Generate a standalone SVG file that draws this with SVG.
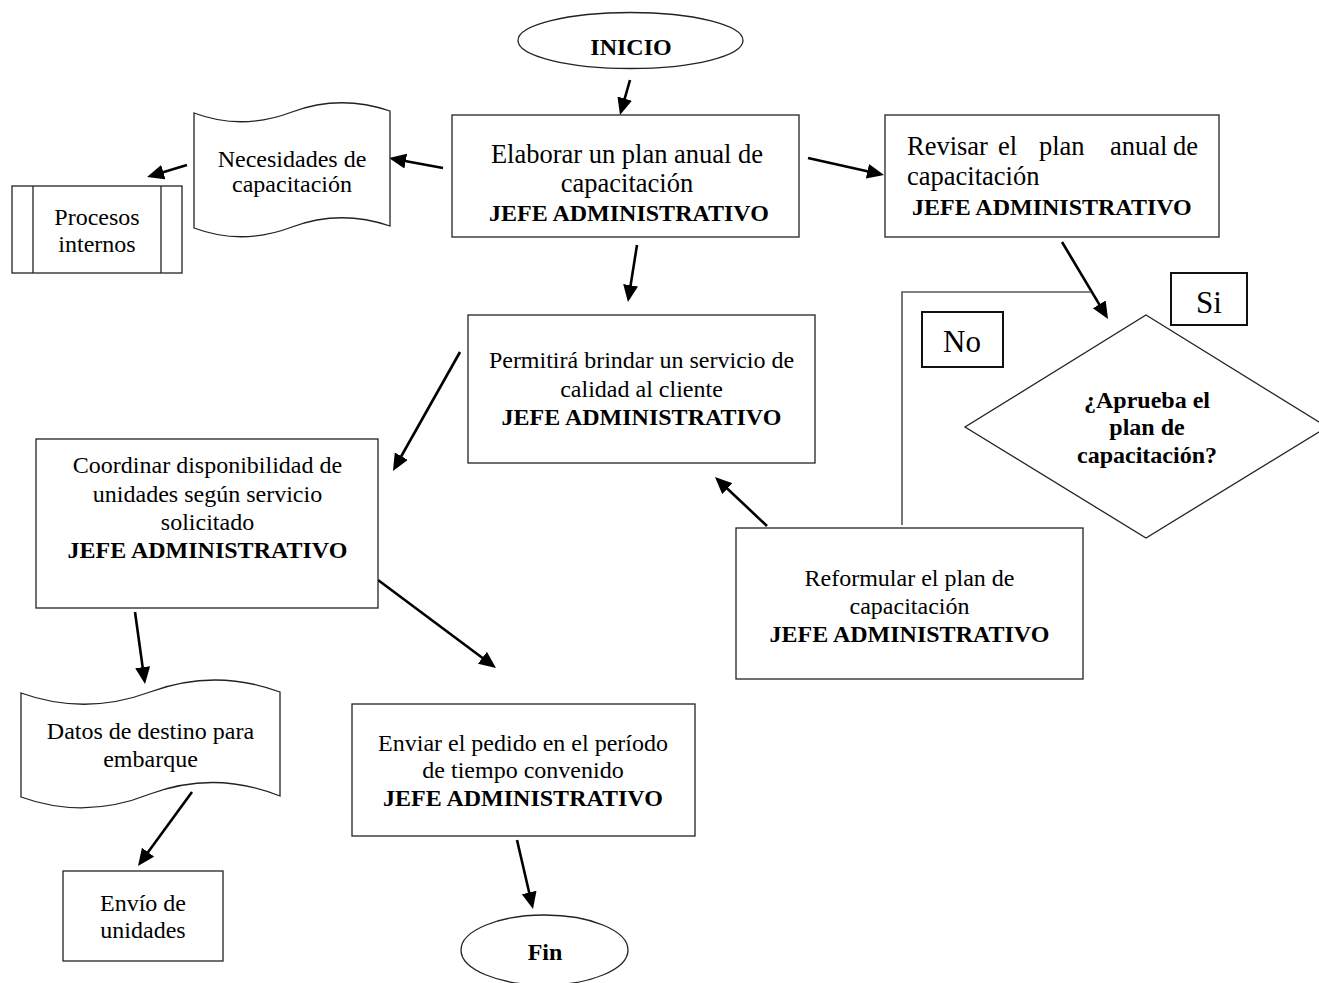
<svg xmlns="http://www.w3.org/2000/svg" width="1319" height="983" viewBox="0 0 1319 983">
  <style>
    .shape { fill: #ffffff; stroke: #222222; stroke-width: 1.3; }
    .thin { fill: none; stroke: #222222; stroke-width: 1.3; }
    .label-box { fill: #ffffff; stroke: #111111; stroke-width: 2; }
    .t { font-family: "Liberation Serif", "Times New Roman", serif; font-size: 24px; fill: #000000; text-anchor: middle; }
    .big { font-size: 26.5px; }
    .b { font-weight: bold; font-size: 24px; }
    .sino { font-size: 31px; }
    .left { text-anchor: start; }
    .flow { fill: none; stroke: #000000; stroke-width: 2.6; marker-end: url(#head); }
    .loop { fill: none; stroke: #555555; stroke-width: 1.6; }
  </style>
  <defs>
    <marker id="head" markerUnits="userSpaceOnUse" markerWidth="18" markerHeight="16" refX="9" refY="7.5" orient="auto">
      <path d="M0,0 L17,7.5 L0,15 Z" fill="#000000"/>
    </marker>
  </defs>

  <rect width="1319" height="983" fill="#ffffff"/>

  <!-- connectors -->
  <g id="connectors">
    <line class="flow" x1="630" y1="80" x2="622.2" y2="107.3"/>
    <line class="flow" x1="443" y1="168" x2="396.9" y2="159.5"/>
    <line class="flow" x1="187" y1="165" x2="154.7" y2="174.7"/>
    <line class="flow" x1="808" y1="158" x2="876.2" y2="173.3"/>
    <line class="flow" x1="637" y1="245" x2="629.2" y2="294.1"/>
    <line class="flow" x1="1062" y1="242" x2="1103.9" y2="312.1"/>
    <line class="flow" x1="767" y1="526" x2="720.8" y2="482.5"/>
    <line class="flow" x1="460" y1="352" x2="396.9" y2="464"/>
    <line class="flow" x1="378" y1="580" x2="489.6" y2="663.2"/>
    <line class="flow" x1="135" y1="612" x2="143.9" y2="676.1"/>
    <line class="flow" x1="192" y1="792" x2="142.7" y2="859.5"/>
    <line class="flow" x1="517" y1="840" x2="531.2" y2="901.2"/>
    <!-- "No" return path from the decision back up over the reformulation box -->
    <polyline class="loop" points="902,525 902,292 1091,292"/>
  </g>

  <!-- start terminal -->
  <g id="inicio">
    <ellipse class="shape" cx="630.5" cy="40.5" rx="112.5" ry="28"/>
    <text class="t b" x="631" y="55">INICIO</text>
  </g>

  <g id="elaborar">
    <rect class="shape" x="452" y="115" width="347" height="122"/>
    <text class="t big" x="627" y="163">Elaborar un plan anual de</text>
    <text class="t big" x="627" y="192">capacitación</text>
    <text class="t b" x="629" y="221">JEFE ADMINISTRATIVO</text>
  </g>

  <g id="revisar">
    <rect class="shape" x="885" y="115" width="334" height="122"/>
    <text class="t big left" y="155"><tspan x="907">Revisar</tspan><tspan x="998">el</tspan><tspan x="1039">plan</tspan><tspan x="1110">anual</tspan><tspan x="1173">de</tspan></text>
    <text class="t big left" x="907" y="185">capacitación</text>
    <text class="t b left" x="912" y="215">JEFE ADMINISTRATIVO</text>
  </g>

  <g id="necesidades">
    <path class="shape" d="M194,113 Q242,131 292,112 Q340,94 390,111 L390,226 Q340,209 292,227 Q242,246 194,228 Z"/>
    <text class="t" x="292" y="167">Necesidades de</text>
    <text class="t" x="292" y="192">capacitación</text>
  </g>

  <g id="procesos">
    <rect class="shape" x="12" y="186" width="170" height="87"/>
    <line class="thin" x1="33" y1="186" x2="33" y2="273"/>
    <line class="thin" x1="161" y1="186" x2="161" y2="273"/>
    <text class="t" x="97" y="225">Procesos</text>
    <text class="t" x="97" y="252">internos</text>
  </g>

  <g id="permitira">
    <rect class="shape" x="468" y="315" width="347" height="148"/>
    <text class="t" x="641.5" y="368">Permitirá brindar un servicio de</text>
    <text class="t" x="641.5" y="397">calidad al cliente</text>
    <text class="t b" x="641.5" y="425">JEFE ADMINISTRATIVO</text>
  </g>

  <g id="decision">
    <polygon class="shape" points="1146,315 1327,427 1146,538 965,427"/>
    <text class="t b" x="1147" y="408">¿Aprueba el</text>
    <text class="t b" x="1147" y="435">plan de</text>
    <text class="t b" x="1147" y="463">capacitación?</text>
  </g>

  <g id="label-si">
    <rect class="label-box" x="1171" y="273" width="76" height="52"/>
    <text class="t sino" x="1209" y="313">Si</text>
  </g>

  <g id="label-no">
    <rect class="label-box" x="922" y="312" width="81" height="55"/>
    <text class="t sino" x="962" y="352">No</text>
  </g>

  <g id="reformular">
    <rect class="shape" x="736" y="528" width="347" height="151"/>
    <text class="t" x="909.5" y="586">Reformular el plan de</text>
    <text class="t" x="909.5" y="614">capacitación</text>
    <text class="t b" x="909.5" y="642">JEFE ADMINISTRATIVO</text>
  </g>

  <g id="coordinar">
    <rect class="shape" x="36" y="439" width="342" height="169"/>
    <text class="t" x="207.5" y="473">Coordinar disponibilidad de</text>
    <text class="t" x="207.5" y="502">unidades según servicio</text>
    <text class="t" x="207.5" y="530">solicitado</text>
    <text class="t b" x="207.5" y="558">JEFE ADMINISTRATIVO</text>
  </g>

  <g id="datos">
    <path class="shape" d="M21,693 Q85,716 150,692 Q215,668 280,692 L280,796 Q215,770 150,794 Q85,820 21,797 Z"/>
    <text class="t" x="150.5" y="739">Datos de destino para</text>
    <text class="t" x="150.5" y="767">embarque</text>
  </g>

  <g id="envio">
    <rect class="shape" x="63" y="871" width="160" height="90"/>
    <text class="t" x="143" y="911">Envío de</text>
    <text class="t" x="143" y="938">unidades</text>
  </g>

  <g id="enviar">
    <rect class="shape" x="352" y="704" width="343" height="132"/>
    <text class="t" x="523" y="751">Enviar el pedido en el período</text>
    <text class="t" x="523" y="778">de tiempo convenido</text>
    <text class="t b" x="523" y="806">JEFE ADMINISTRATIVO</text>
  </g>

  <!-- end terminal -->
  <g id="fin">
    <ellipse class="shape" cx="544.5" cy="950" rx="83.5" ry="35"/>
    <text class="t b" x="545" y="960">Fin</text>
  </g>
</svg>
